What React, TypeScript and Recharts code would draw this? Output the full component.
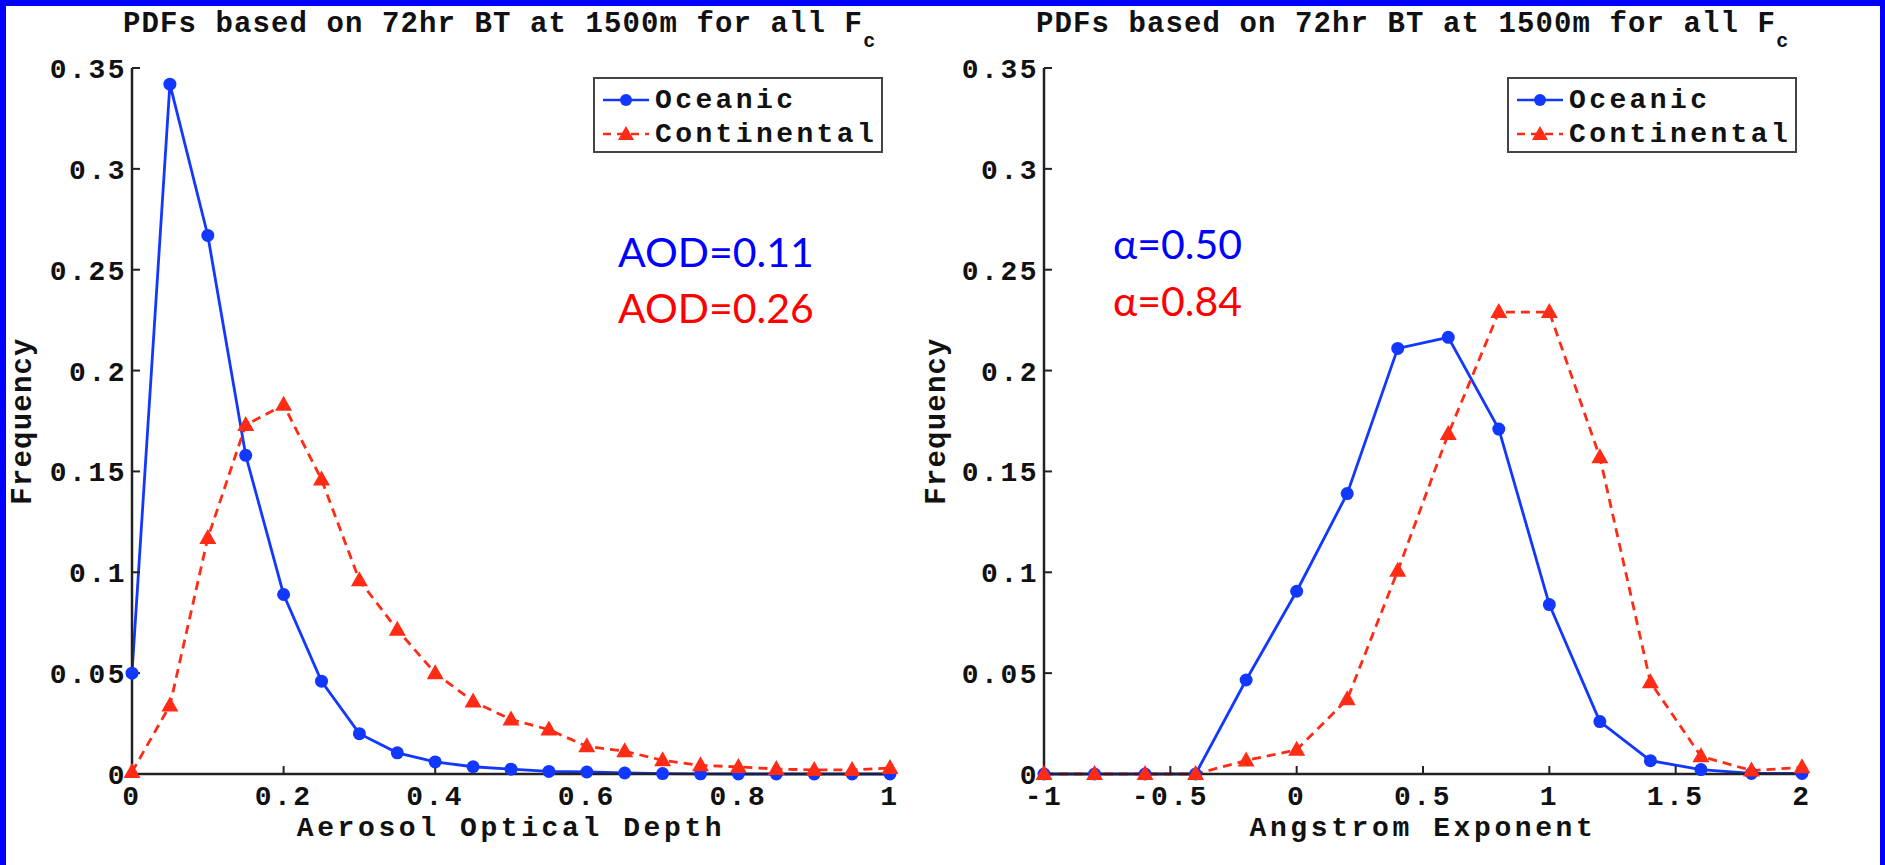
import { LineChart, Line, XAxis, YAxis, Legend, Label } from "recharts";

const AOD_BINS = [0, 0.05, 0.1, 0.15, 0.2, 0.25, 0.3, 0.35, 0.4, 0.45, 0.5, 0.55, 0.6, 0.65, 0.7, 0.75, 0.8, 0.85, 0.9, 0.95, 1];
const AOD_OCEANIC = [0.05, 0.342, 0.267, 0.158, 0.089, 0.046, 0.02, 0.0105, 0.006, 0.0036, 0.0024, 0.0013, 0.001, 0.0005, 0.0002, 0.0001, 0, 0, 0, 0, 0];
const AOD_CONTINENTAL = [0.001, 0.034, 0.117, 0.173, 0.183, 0.146, 0.096, 0.0715, 0.05, 0.036, 0.027, 0.022, 0.0137, 0.0113, 0.0068, 0.0043, 0.0035, 0.0025, 0.002, 0.002, 0.003];
const AOD_TICKS = [0, 0.2, 0.4, 0.6, 0.8, 1];

const AE_BINS = [-1, -0.8, -0.6, -0.4, -0.2, 0, 0.2, 0.4, 0.6, 0.8, 1, 1.2, 1.4, 1.6, 1.8, 2];
const AE_OCEANIC = [0, 0, 0, 0, 0.0466, 0.0906, 0.139, 0.211, 0.2165, 0.171, 0.084, 0.026, 0.0066, 0.0022, 0.0003, 0.0003];
const AE_CONTINENTAL = [0, 0, 0, 0, 0.0067, 0.012, 0.037, 0.1007, 0.1686, 0.229, 0.229, 0.157, 0.0455, 0.0088, 0.0017, 0.0033];
const AE_TICKS = [-1, -0.5, 0, 0.5, 1, 1.5, 2];

const FREQ_TICKS = [0, 0.05, 0.1, 0.15, 0.2, 0.25, 0.3, 0.35];

const BLUE = "#1238ff";
const RED = "#ff2b14";
const AXIS = "#222";
const MONO = "'Liberation Mono', 'Courier New', monospace";
const SANS = "Lato, 'Open Sans', sans-serif";

const tickStyle = { fill: "#111", fontSize: 28, fontFamily: MONO, fontWeight: 700, letterSpacing: 2.5 };

function TriangleDot(props: any) {
  const { cx, cy, index } = props;
  if (cx == null || cy == null) return <g key={index} />;
  return <path key={index} d={`M${cx},${cy - 9} L${cx + 8.5},${cy + 6} L${cx - 8.5},${cy + 6} Z`} fill={RED} />;
}

function LegendBox() {
  const row = { display: "flex", alignItems: "center", height: 34 };
  const text = { fontFamily: MONO, fontWeight: 700, fontSize: 28, letterSpacing: 3.4, color: "#111", marginLeft: 6 };
  return (
    <div style={{ border: "2px solid #444", background: "#fff", padding: "4px 0 2px 8px", boxSizing: "border-box", height: 76 }}>
      <div style={row}>
        <svg width={46} height={34}>
          <line x1={0} y1={17} x2={46} y2={17} stroke={BLUE} strokeWidth={2.5} />
          <circle cx={23} cy={17} r={6} fill={BLUE} />
        </svg>
        <span style={text}>Oceanic</span>
      </div>
      <div style={row}>
        <svg width={46} height={34}>
          <line x1={0} y1={17} x2={46} y2={17} stroke={RED} strokeWidth={2.5} strokeDasharray="8 6" />
          <path d="M23,9 L31,23 L15,23 Z" fill={RED} />
        </svg>
        <span style={text}>Continental</span>
      </div>
    </div>
  );
}

interface PanelProps {
  bins: number[];
  oceanic: number[];
  continental: number[];
  xTicks: number[];
  xLabel: string;
  width: number;
  yAxisWidth: number;
  marginRight: number;
  legendLeft: number;
  yLabelOffset: number;
}

function Panel({ bins, oceanic, continental, xTicks, xLabel, width, yAxisWidth, marginRight, legendLeft, yLabelOffset }: PanelProps) {
  const data = bins.map((x, i) => ({ x, oceanic: oceanic[i], continental: continental[i] }));
  const domain = [xTicks[0], xTicks[xTicks.length - 1]];
  return (
    <LineChart width={width} height={865} data={data} margin={{ top: 68, right: marginRight, bottom: 0, left: 0 }}>
      <XAxis
        xAxisId="bottom"
        dataKey="x"
        type="number"
        domain={domain}
        ticks={xTicks}
        height={91}
        tickSize={-8}
        tickMargin={19}
        axisLine={{ stroke: AXIS, strokeWidth: 2.5 }}
        tickLine={{ stroke: AXIS, strokeWidth: 2 }}
        tick={tickStyle}
      >
        <Label
          value={xLabel}
          position="insideBottom"
          offset={29}
          style={{ fill: "#111", fontSize: 28, fontFamily: MONO, fontWeight: 700, letterSpacing: 3.6 }}
        />
      </XAxis>
      <XAxis
        xAxisId="top"
        orientation="top"
        dataKey="x"
        type="number"
        domain={domain}
        ticks={xTicks}
        height={0}
        tickSize={-8}
        tick={false}
        axisLine={{ stroke: AXIS, strokeWidth: 2.5 }}
        tickLine={{ stroke: AXIS, strokeWidth: 2 }}
      />
      <YAxis
        yAxisId="left"
        type="number"
        domain={[0, 0.35]}
        ticks={FREQ_TICKS}
        width={yAxisWidth}
        tickSize={-8}
        tickMargin={13}
        axisLine={{ stroke: AXIS, strokeWidth: 2.5 }}
        tickLine={{ stroke: AXIS, strokeWidth: 2 }}
        tick={tickStyle}
      >
        <Label
          value="Frequency"
          angle={-90}
          position="insideLeft"
          offset={yLabelOffset}
          style={{ textAnchor: "middle", fill: "#111", fontSize: 29, fontFamily: MONO, fontWeight: 700, letterSpacing: 1.2 }}
        />
      </YAxis>
      <YAxis
        yAxisId="right"
        orientation="right"
        type="number"
        domain={[0, 0.35]}
        ticks={FREQ_TICKS}
        width={0}
        tickSize={-8}
        tick={false}
        axisLine={{ stroke: AXIS, strokeWidth: 2.5 }}
        tickLine={{ stroke: AXIS, strokeWidth: 2 }}
      />
      <Legend
        layout="vertical"
        align="center"
        verticalAlign="middle"
        wrapperStyle={{ left: legendLeft, top: 77, width: 290, height: 76 }}
        content={() => <LegendBox />}
      />
      <Line
        xAxisId="bottom"
        yAxisId="left"
        type="linear"
        dataKey="oceanic"
        name="Oceanic"
        stroke={BLUE}
        strokeWidth={2.8}
        dot={{ r: 6.5, fill: BLUE, stroke: BLUE, strokeWidth: 0 }}
        isAnimationActive={false}
      />
      <Line
        xAxisId="bottom"
        yAxisId="left"
        type="linear"
        dataKey="continental"
        name="Continental"
        stroke={RED}
        strokeWidth={2.8}
        strokeDasharray="9 6"
        dot={TriangleDot}
        isAnimationActive={false}
      />
    </LineChart>
  );
}

function Title({ x }: { x: number }) {
  return (
    <text x={x} y={32} fontFamily={MONO} fontWeight={700} fontSize={29} letterSpacing={1.1} fill="#111">
      PDFs based on 72hr BT at 1500m for all F
      <tspan fontSize={20} dy={15}>c</tspan>
    </text>
  );
}

export default function App() {
  return (
    <div style={{ position: "absolute", left: 0, top: 0, width: 1885, height: 865, background: "#fff", overflow: "hidden" }}>
      <div style={{ position: "absolute", left: 0, top: 0 }}>
        <Panel
          bins={AOD_BINS}
          oceanic={AOD_OCEANIC}
          continental={AOD_CONTINENTAL}
          xTicks={AOD_TICKS}
          xLabel="Aerosol Optical Depth"
          width={900}
          yAxisWidth={132}
          marginRight={10}
          legendLeft={593}
          yLabelOffset={21}
        />
      </div>
      <div style={{ position: "absolute", left: 900, top: 0 }}>
        <Panel
          bins={AE_BINS}
          oceanic={AE_OCEANIC}
          continental={AE_CONTINENTAL}
          xTicks={AE_TICKS}
          xLabel="Angstrom Exponent"
          width={985}
          yAxisWidth={144}
          marginRight={83}
          legendLeft={607}
          yLabelOffset={35}
        />
      </div>
      <svg width={1885} height={865} style={{ position: "absolute", left: 0, top: 0, pointerEvents: "none" }}>
        <Title x={123} />
        <Title x={1036} />
        <text x={618} y={267} fontFamily={SANS} fontSize={41} fill="#0000ff">AOD=0.11</text>
        <text x={618} y={323} fontFamily={SANS} fontSize={41} fill="#ff0000">AOD=0.26</text>
        <text x={1113} y={259} fontFamily={SANS} fontSize={41} fill="#0000ff">α=0.50</text>
        <text x={1113} y={316} fontFamily={SANS} fontSize={41} fill="#ff0000">α=0.84</text>
      </svg>
      <div
        style={{
          position: "absolute",
          left: 0,
          top: 0,
          width: 1885,
          height: 865,
          boxSizing: "border-box",
          borderTop: "6px solid #0000ff",
          borderLeft: "6px solid #0000ff",
          borderRight: "5px solid #0000ff",
          pointerEvents: "none",
        }}
      />
    </div>
  );
}
